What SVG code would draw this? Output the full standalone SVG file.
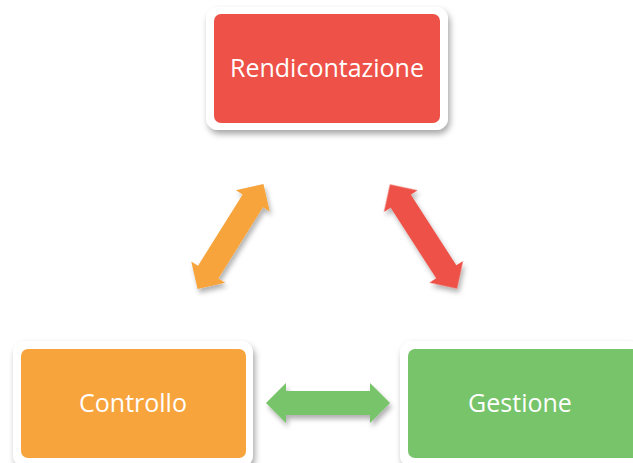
<svg xmlns="http://www.w3.org/2000/svg" width="633" height="463" viewBox="0 0 633 463">
<defs>
<filter id="sh" x="-20%" y="-20%" width="140%" height="150%">
<feDropShadow dx="2" dy="4" stdDeviation="3" flood-color="#000" flood-opacity="0.35"/>
</filter>
<filter id="ash" x="-30%" y="-30%" width="160%" height="160%">
<feDropShadow dx="2" dy="4" stdDeviation="2.5" flood-color="#000" flood-opacity="0.3"/>
</filter>
<path id="arrow" d="M -62 0 L -42 -20 L -42 -12 L 42 -12 L 42 -20 L 62 0 L 42 20 L 42 12 L -42 12 L -42 20 Z"/>
</defs>
<style>
.outer{fill:#fff;filter:url(#sh)}
.lbl{font-family:"Open Sans","Liberation Sans",sans-serif;font-size:25px;fill:#fff;text-anchor:middle}
</style>
<rect width="633" height="463" fill="#fff"/>
<g id="rendicontazione">
<rect class="outer" x="206" y="7" width="242" height="123" rx="12"/>
<rect x="214" y="14" width="226" height="109" rx="7" fill="#EE5147"/>
<text class="lbl" x="327" y="77">Rendicontazione</text>
</g>
<g id="controllo">
<rect class="outer" x="13" y="341" width="240" height="126" rx="12"/>
<rect x="21" y="349" width="225" height="109" rx="7" fill="#F7A43D"/>
<text class="lbl" x="133" y="412">Controllo</text>
</g>
<g id="gestione">
<rect class="outer" x="400" y="341" width="240" height="126" rx="12"/>
<rect x="408" y="349" width="232" height="109" rx="7" fill="#77C46A"/>
<text class="lbl" x="520" y="412">Gestione</text>
</g>
<g id="connectors" filter="url(#ash)">
<use href="#arrow" fill="#F7A43D" transform="translate(230.5,236.5) rotate(-57.9)"/>
<use href="#arrow" fill="#EE5147" transform="translate(423.5,236.5) rotate(57.2)"/>
<use href="#arrow" fill="#77C46A" transform="translate(328,403)"/>
</g>
</svg>
